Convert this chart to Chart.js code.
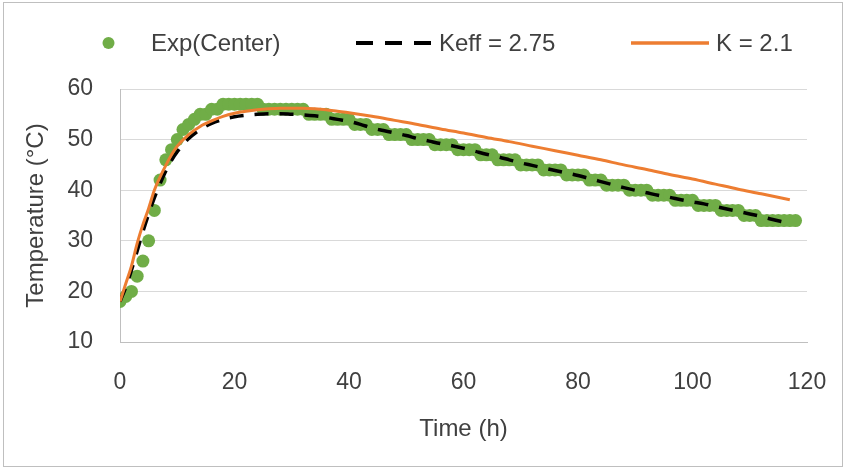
<!DOCTYPE html>
<html>
<head>
<meta charset="utf-8">
<script src="https://cdn.jsdelivr.net/npm/chart.js@4/dist/chart.umd.min.js"></script>
<style>
    html, body { margin: 0; padding: 0; background: #fff; }
    #wrap { position: relative; width: 845px; height: 469px; overflow: hidden; }
    #frame { position: absolute; left: 3px; top: 2px; width: 838px; height: 463px; border: 1px solid #bfbfbf; pointer-events: none; }
    #chart { position: absolute; left: 0; top: 0; }
    .lg { position: absolute; top: 43px; transform: translateY(-50%); font-family: "Liberation Sans", Arial, sans-serif; font-size: 24px; color: #404040; white-space: nowrap; line-height: 1; }
    .lg svg { display: block; }
</style>
</head>
<body>
<div id="wrap">
    <canvas id="chart" width="845" height="469"></canvas>
    <div id="legend"></div>
    <div id="frame"></div>
</div>
<script>
// ------------------------------------------------------------
// Centre temperature vs time: measured points and two model fits
// ------------------------------------------------------------

const FONT = "'Liberation Sans', Arial, sans-serif";
const TEXT = "#404040";

const SERIES_NAMES = ["Exp(Center)", "Keff = 2.75", "K = 2.1"];
const COLORS = ["#70ad47", "#000000", "#ed7d31"];

// measured, hourly
const expTime = [
    0, 1, 2, 3, 4, 5, 6, 7, 8, 9, 10, 11, 12, 13, 14, 15, 16, 17, 18, 19,
    20, 21, 22, 23, 24, 25, 26, 27, 28, 29, 30, 31, 32, 33, 34, 35, 36, 37, 38, 39,
    40, 41, 42, 43, 44, 45, 46, 47, 48, 49, 50, 51, 52, 53, 54, 55, 56, 57, 58, 59,
    60, 61, 62, 63, 64, 65, 66, 67, 68, 69, 70, 71, 72, 73, 74, 75, 76, 77, 78, 79,
    80, 81, 82, 83, 84, 85, 86, 87, 88, 89, 90, 91, 92, 93, 94, 95, 96, 97, 98, 99,
    100, 101, 102, 103, 104, 105, 106, 107, 108, 109, 110, 111, 112, 113, 114, 115, 116, 117, 118
];
const expTemp = [
    18, 19, 20, 23, 26, 30, 36, 42, 46, 48, 50, 52, 53, 54, 55, 55, 56, 56, 57, 57,
    57, 57, 57, 57, 57, 56, 56, 56, 56, 56, 56, 56, 56, 55, 55, 55, 55, 54, 54, 54,
    54, 53, 53, 53, 52, 52, 52, 51, 51, 51, 51, 50, 50, 50, 50, 49, 49, 49, 49, 48,
    48, 48, 48, 47, 47, 47, 46, 46, 46, 46, 45, 45, 45, 45, 44, 44, 44, 44, 43, 43,
    43, 43, 42, 42, 42, 41, 41, 41, 41, 40, 40, 40, 40, 39, 39, 39, 39, 38, 38, 38,
    38, 37, 37, 37, 37, 36, 36, 36, 36, 35, 35, 35, 34, 34, 34, 34, 34, 34, 34
];

// model, effective conductivity
const keffTime = [
    0, 1, 2, 3, 4, 5, 6, 7, 8, 9, 10, 12, 14, 16, 18, 20, 22, 24, 26, 28,
    30, 32, 34, 36, 38, 40, 42, 44, 46, 48, 50, 52, 54, 56, 58, 60, 62, 64, 66, 68,
    70, 72, 74, 76, 78, 80, 82, 84, 86, 88, 90, 92, 94, 96, 98, 100, 102, 104, 106, 108,
    110, 112, 114, 116
];
const keffTemp = [
    18.0, 20.8, 24.2, 28.0, 31.8, 35.3, 38.5, 41.3, 43.8, 45.9, 47.6, 50.2, 52.0, 53.2, 54.0, 54.5, 54.8, 55.0, 55.1, 55.1,
    55.0, 54.9, 54.7, 54.4, 54.0, 53.6, 53.0, 52.3, 51.8, 51.3, 50.8, 50.2, 49.7, 49.2, 48.8, 48.3, 47.7, 47.1, 46.6, 46.0,
    45.4, 44.9, 44.4, 43.9, 43.4, 42.9, 42.3, 41.7, 41.1, 40.5, 40.0, 39.5, 39.0, 38.6, 38.1, 37.7, 37.3, 36.8, 36.3, 35.8,
    35.3, 34.8, 34.2, 33.7
];

// model, bulk conductivity
const kTime = [
    0, 1, 2, 3, 4, 5, 6, 7, 8, 9, 10, 12, 14, 16, 18, 20, 22, 24, 26, 28,
    30, 32, 34, 36, 38, 40, 44, 48, 52, 56, 60, 64, 68, 72, 76, 80, 84, 88, 92, 96,
    100, 104, 108, 112, 117
];
const kTemp = [
    18.0, 21.5, 25.0, 29.5, 33.2, 36.4, 40.0, 42.6, 44.9, 47.0, 48.7, 51.0, 52.6, 53.7, 54.6, 55.2, 55.6, 55.9, 56.1, 56.2,
    56.2, 56.2, 56.1, 55.9, 55.6, 55.3, 54.6, 53.8, 53.0, 52.1, 51.3, 50.4, 49.6, 48.7, 47.8, 46.9, 46.0, 45.0, 44.1, 43.1,
    42.2, 41.2, 40.2, 39.3, 38.1
];

const X_TICKS = [0, 20, 40, 60, 80, 100, 120];
const Y_TICKS = [10, 20, 30, 40, 50, 60];

function pairs(xs, ys) {
    return xs.map((x, i) => ({ x, y: ys[i] }));
}

function buildLegend() {
    const el = document.getElementById("legend");
    el.innerHTML =
        `<div class="lg" style="left:102px"><svg width="13" height="13"><circle cx="6.5" cy="6.5" r="6" fill="${COLORS[0]}"/></svg></div>
         <div class="lg" style="left:151px">${SERIES_NAMES[0]}</div>
         <div class="lg" style="left:356px"><svg width="76" height="6"><line x1="0" y1="3" x2="76" y2="3" stroke="${COLORS[1]}" stroke-width="4" stroke-dasharray="17 12"/></svg></div>
         <div class="lg" style="left:439px">${SERIES_NAMES[1]}</div>
         <div class="lg" style="left:631px"><svg width="78" height="6"><line x1="0" y1="3" x2="78" y2="3" stroke="${COLORS[2]}" stroke-width="3.5"/></svg></div>
         <div class="lg" style="left:716px">${SERIES_NAMES[2]}</div>`;
}

const ctx = document.getElementById("chart").getContext("2d");

new Chart(ctx, {
    type: "scatter",
    data: {
        datasets: [
            {
                label: SERIES_NAMES[0],
                data: pairs(expTime, expTemp),
                backgroundColor: COLORS[0],
                borderColor: COLORS[0],
                pointRadius: 6.5,
                pointBorderWidth: 0,
                showLine: false,
                order: 3
            },
            {
                label: SERIES_NAMES[1],
                data: pairs(keffTime, keffTemp),
                borderColor: COLORS[1],
                borderWidth: 3.5,
                borderDash: [14, 11],
                pointRadius: 0,
                showLine: true,
                cubicInterpolationMode: "monotone",
                order: 2
            },
            {
                label: SERIES_NAMES[2],
                data: pairs(kTime, kTemp),
                borderColor: COLORS[2],
                borderWidth: 3,
                pointRadius: 0,
                showLine: true,
                cubicInterpolationMode: "monotone",
                order: 1
            }
        ]
    },
    options: {
        responsive: false,
        animation: false,
        layout: { padding: { top: 89, right: 38, left: 0, bottom: 0 } },
        plugins: {
            legend: { display: false },
            tooltip: { enabled: false }
        },
        scales: {
            x: {
                type: "linear",
                min: 0,
                max: 120,
                afterBuildTicks: s => { s.ticks = X_TICKS.map(v => ({ value: v })); },
                afterFit: s => {
                    s.height = 127;
                    s.paddingLeft = 0;
                    s.paddingRight = 0;
                },
                ticks: { color: TEXT, font: { family: FONT, size: 23 }, padding: 27 },
                grid: { display: false, drawTicks: false },
                border: { display: true, color: "#bfbfbf", width: 1 },
                title: {
                    display: true,
                    text: "Time (h)",
                    color: TEXT,
                    font: { family: FONT, size: 24 },
                    padding: { top: 0, bottom: 25 }
                }
            },
            y: {
                min: 10,
                max: 60,
                afterBuildTicks: s => { s.ticks = Y_TICKS.map(v => ({ value: v })); },
                afterFit: s => { s.width = 120; },
                ticks: { color: TEXT, font: { family: FONT, size: 23 }, padding: 27 },
                grid: { color: "#d9d9d9", drawTicks: false },
                border: { display: true, color: "#bfbfbf", width: 1 },
                title: {
                    display: true,
                    text: "Temperature (°C)",
                    color: TEXT,
                    font: { family: FONT, size: 24 },
                    padding: { top: 22, bottom: 0 }
                }
            }
        }
    }
});

buildLegend();
</script>
</body>
</html>
